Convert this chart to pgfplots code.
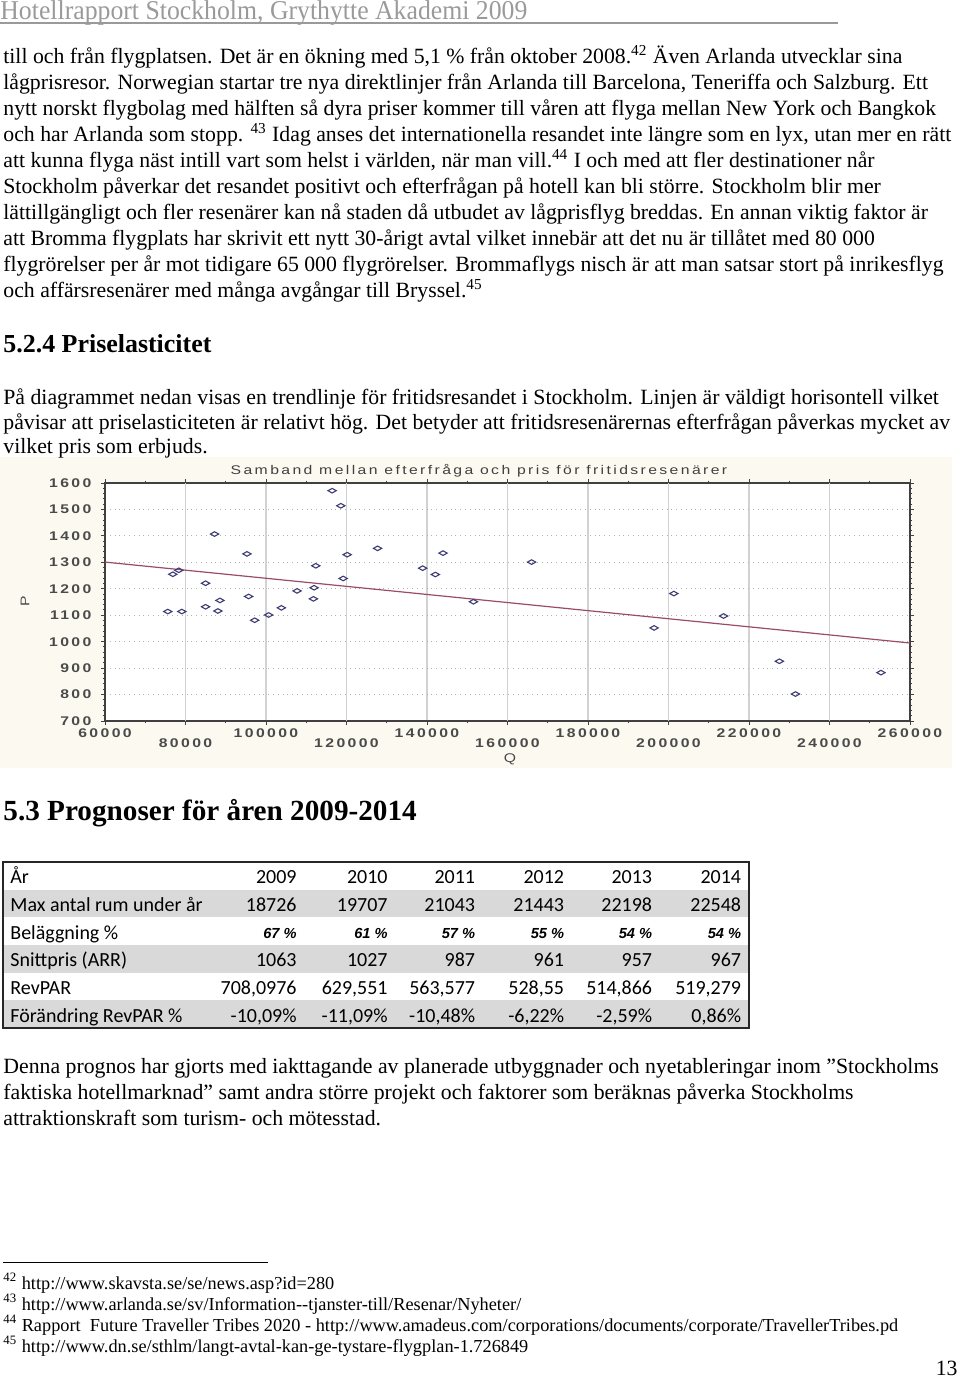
\documentclass[border=0pt]{standalone}
\usepackage{fontspec}
\usepackage{graphicx}
\usepackage{pgfplots}
\pgfplotsset{compat=1.18}
\setmainfont{Liberation Serif}
\newfontfamily\chartfont{Liberation Sans}[FakeStretch=1.25,LetterSpace=19]
\newfontfamily\tabfont{Carlito}
\newfontfamily\arialfont{Liberation Sans}
\definecolor{chartbg}{HTML}{FCFAF0}
\definecolor{markblue}{HTML}{3D3D73}
\definecolor{trendred}{HTML}{9B4A6A}
\definecolor{axisgray}{HTML}{404040}
\definecolor{labgray}{HTML}{4A4A4A}
\definecolor{rowgray}{HTML}{D9D9D9}
\definecolor{headgray}{HTML}{9A9A9A}

% one text line: left x, baseline y (pixels of the page)
\newcommand\tline[3]{\node[anchor=base west,inner sep=0pt] at (#1,#2) {#3};}

\begin{document}
\begin{tikzpicture}[x=0.5pt,y=-0.5pt]
\useasboundingbox (0,0) rectangle (960,1378);

% chart panel (drawn first so the text above stays on top)
\fill[chartbg] (0,457) rectangle (952,768);

% running head
\node[anchor=base west,inner sep=0pt,text=headgray] at (0,19)
  {\resizebox{263.5pt}{\height}{\fontsize{13.6}{14}\selectfont Hotellrapport Stockholm, Grythytte Akademi 2009}};
\draw[headgray,line width=0.7pt] (0,23) -- (838,23);

% body text
\begin{scope}[font=\fontsize{10.88}{13}\selectfont]
\tline{3}{63}{till och från flygplatsen. Det är en ökning med 5,1 \% från oktober 2008.\textsuperscript{42} Även Arlanda utvecklar sina}
\tline{3}{89.1}{lågprisresor. Norwegian startar tre nya direktlinjer från Arlanda till Barcelona, Teneriffa och Salzburg. Ett}
\tline{3}{115.2}{nytt norskt flygbolag med hälften så dyra priser kommer till våren att flyga mellan New York och Bangkok}
\tline{3}{141.3}{och har Arlanda som stopp. \textsuperscript{43} Idag anses det internationella resandet inte längre som en lyx, utan mer en rätt}
\tline{3}{167.4}{att kunna flyga näst intill vart som helst i världen, när man vill.\textsuperscript{44} I och med att fler destinationer når}
\tline{3}{193.5}{Stockholm påverkar det resandet positivt och efterfrågan på hotell kan bli större. Stockholm blir mer}
\tline{3}{219.6}{lättillgängligt och fler resenärer kan nå staden då utbudet av lågprisflyg breddas. En annan viktig faktor är}
\tline{3}{245.7}{att Bromma flygplats har skrivit ett nytt 30-årigt avtal vilket innebär att det nu är tillåtet med 80 000}
\tline{3}{271.8}{flygrörelser per år mot tidigare 65 000 flygrörelser. Brommaflygs nisch är att man satsar stort på inrikesflyg}
\tline{3}{297.9}{och affärsresenärer med många avgångar till Bryssel.\textsuperscript{45}}

\tline{3}{404.5}{På diagrammet nedan visas en trendlinje för fritidsresandet i Stockholm. Linjen är väldigt horisontell vilket}
\tline{3}{429.5}{påvisar att priselasticiteten är relativt hög. Det betyder att fritidsresenärernas efterfrågan påverkas mycket av}
\tline{3}{453.5}{vilket pris som erbjuds.}

\tline{3}{1073}{Denna prognos har gjorts med iakttagande av planerade utbyggnader och nyetableringar inom ”Stockholms}
\tline{3}{1099}{faktiska hotellmarknad” samt andra större projekt och faktorer som beräknas påverka Stockholms}
\tline{3}{1125}{attraktionskraft som turism- och mötesstad.}
\end{scope}

% headings
\node[anchor=base west,inner sep=0pt,font=\bfseries\fontsize{12.96}{14}\selectfont] at (3,352) {5.2.4 Priselasticitet};
\node[anchor=base west,inner sep=0pt,font=\bfseries\fontsize{14.6}{16}\selectfont] at (3,820) {5.3 Prognoser för åren 2009-2014};

% chart texts
\node[font=\chartfont\fontsize{6.3}{7}\selectfont,text=axisgray] at (479,470.5) {Samband mellan efterfråga och pris för fritidsresenärer};
\node[font=\chartfont\fontsize{6.3}{7}\selectfont,text=labgray,rotate=90] at (25,601.7) {P};
\node[font=\chartfont\fontsize{6.3}{7}\selectfont,text=labgray] at (510,759) {Q};

\begin{axis}[
    at={(52.5pt,-360.5pt)}, anchor=south west,
    width=402.5pt, height=119pt, scale only axis,
    xmin=60000, xmax=260000, ymin=700, ymax=1600,
    scaled x ticks=false, scaled y ticks=false,
    axis background/.style={fill=white},
    axis line style={draw=axisgray, line width=0.7pt},
    xtick={60000,100000,140000,180000,220000,260000},
    xticklabels={60000,100000,140000,180000,220000,260000},
    extra x ticks={80000,120000,160000,200000,240000},
    extra x tick labels={80000,120000,160000,200000,240000},
    extra x tick style={grid=major, xticklabel style={yshift=-5.3pt}},
    minor xtick={70000,90000,...,250000},
    ytick={700,800,...,1600},
    yticklabels={700,800,900,1000,1100,1200,1300,1400,1500,1600},
    minor y tick num=4,
    tick align=outside,
    major tick length=2pt, minor tick length=1.2pt,
    tick style={draw=axisgray, line width=0.5pt},
    xmajorgrids, ymajorgrids,
    x grid style={draw=gray!35, line width=0.8pt},
    y grid style={draw=gray!60, dotted, line width=0.5pt},
    tick label style={font=\chartfont\bfseries\fontsize{6.3}{7}\selectfont, text=labgray},
    xticklabel style={inner sep=0pt, anchor=north, yshift=-1.5pt},
    yticklabel style={inner sep=0pt, anchor=east, xshift=-4.6pt},
]
\addplot[only marks, mark=diamond, mark size=1.15pt,
    mark options={xscale=2.4, draw=markblue, fill=white, line width=0.55pt}]
coordinates {
(75600,1114) (76850,1255) (78340,1270) (79090,1114) (84980,1221)
(84980,1132) (87220,1407) (88050,1116) (88550,1156) (95270,1332)
(95680,1171) (97180,1081) (100660,1101) (103820,1128) (107720,1192)
(111780,1162) (111950,1204) (112370,1287) (116430,1571) (118590,1514)
(119170,1239) (120170,1329) (127720,1353) (138920,1278) (142070,1254)
(143980,1335) (151540,1151) (165980,1301) (196430,1052) (201330,1182)
(213690,1097) (227550,926) (231540,802) (252780,883)
};
\addplot[trendred, line width=0.6pt] coordinates {(60000,1301) (260000,995)};
\end{axis}

% table
\fill[rowgray] (3,889.67) rectangle (749,917.33);
\fill[rowgray] (3,945) rectangle (749,972.67);
\fill[rowgray] (3,1000.33) rectangle (749,1028);
\draw[black!85,line width=0.6pt] (3,862) rectangle (749,1028);
\begin{scope}[font=\tabfont\fontsize{10}{12}\selectfont]
\tline{10}{883.7}{År}
\tline{10}{911.3}{Max antal rum under år}
\tline{10}{939}{Beläggning \%}
\tline{10}{966.7}{Snittpris (ARR)}
\tline{10}{994.3}{RevPAR}
\tline{10}{1022}{Förändring RevPAR \%}
\end{scope}
\begin{scope}[every node/.style={anchor=base east,inner sep=0pt,font=\tabfont\fontsize{10}{12}\selectfont}]
\node at (297,883.7) {2009};   \node at (388,883.7) {2010};   \node at (475.5,883.7) {2011};
\node at (564.5,883.7) {2012}; \node at (652.5,883.7) {2013}; \node at (741.5,883.7) {2014};
\node at (297,911.3) {18726};   \node at (388,911.3) {19707};   \node at (475.5,911.3) {21043};
\node at (564.5,911.3) {21443}; \node at (652.5,911.3) {22198}; \node at (741.5,911.3) {22548};
\node at (297,966.7) {1063};   \node at (388,966.7) {1027};   \node at (475.5,966.7) {987};
\node at (564.5,966.7) {961};  \node at (652.5,966.7) {957};  \node at (741.5,966.7) {967};
\node at (297,994.3) {708,0976};   \node at (388,994.3) {629,551};   \node at (475.5,994.3) {563,577};
\node at (564.5,994.3) {528,55};   \node at (652.5,994.3) {514,866}; \node at (741.5,994.3) {519,279};
\node at (297,1022) {-10,09\%};  \node at (388,1022) {-11,09\%}; \node at (475.5,1022) {-10,48\%};
\node at (564.5,1022) {-6,22\%}; \node at (652.5,1022) {-2,59\%}; \node at (741.5,1022) {0,86\%};
\end{scope}
\begin{scope}[every node/.style={anchor=base east,inner sep=0pt,font=\arialfont\bfseries\itshape\fontsize{7.3}{9}\selectfont}]
\node at (297,938) {67 \%};   \node at (388,938) {61 \%};   \node at (475.5,938) {57 \%};
\node at (564.5,938) {55 \%}; \node at (652.5,938) {54 \%}; \node at (741.5,938) {54 \%};
\end{scope}

% footnotes
\draw[black,line width=0.5pt] (3,1262) -- (268,1262);
\begin{scope}[font=\fontsize{9.15}{11}\selectfont]
\tline{3}{1289}{\textsuperscript{42} http://www.skavsta.se/se/news.asp?id=280}
\tline{3}{1310}{\textsuperscript{43} http://www.arlanda.se/sv/Information-{}-tjanster-till/Resenar/Nyheter/}
\tline{3}{1331}{\textsuperscript{44} Rapport\ \ Future Traveller Tribes 2020 - http://www.amadeus.com/corporations/documents/corporate/TravellerTribes.pd}
\tline{3}{1352}{\textsuperscript{45} http://www.dn.se/sthlm/langt-avtal-kan-ge-tystare-flygplan-1.726849}
\end{scope}
\node[anchor=base east,inner sep=0pt,font=\fontsize{10.88}{13}\selectfont] at (958,1375) {13};
\end{tikzpicture}
\end{document}
